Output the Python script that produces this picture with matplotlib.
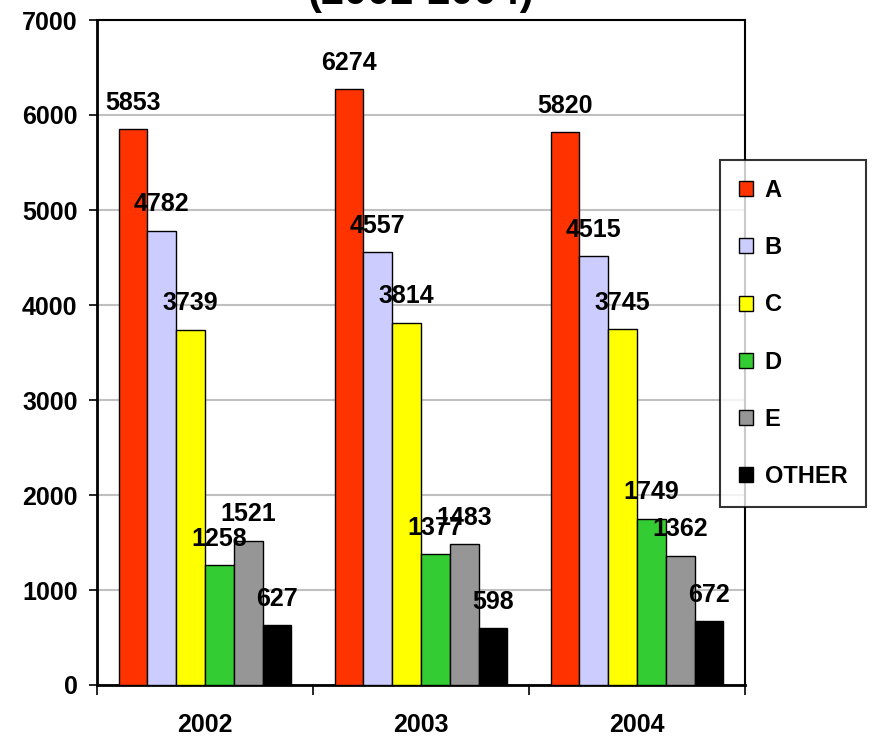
import numpy as np
import matplotlib.pyplot as plt

plt.rcParams['font.family'] = ['Liberation Sans', 'DejaVu Sans']
plt.rcParams['font.weight'] = 'bold'

# data
years = ['2002', '2003', '2004']
series = ['A', 'B', 'C', 'D', 'E', 'OTHER']
vals_A = [5853, 6274, 5820]
vals_B = [4782, 4557, 4515]
vals_C = [3739, 3814, 3745]
vals_D = [1258, 1377, 1749]
vals_E = [1521, 1483, 1362]
vals_OTHER = [627, 598, 672]
colors = ['#FF3300', '#CCCCFF', '#FFFF00', '#33CC33', '#969696', '#000000']

all_vals = [vals_A, vals_B, vals_C, vals_D, vals_E, vals_OTHER]

fig = plt.figure(figsize=(8.88, 7.36), dpi=100)
ax = fig.add_axes([97/888, 1-685/736, (745-97)/888, (685-20)/736])

x = np.arange(len(years))
w = 0.8 / len(series)
for i, (name, v, c) in enumerate(zip(series, all_vals, colors)):
    pos = x - 0.4 + w/2 + i*w
    ax.bar(pos, v, w, color=c, edgecolor='black', linewidth=1, label=name, zorder=3)
    for px, py in zip(pos, v):
        ax.annotate(str(py), (px, py), xytext=(0, 14), textcoords='offset points',
                    ha='center', va='baseline', fontsize=18, fontweight='bold', zorder=4)

ax.set_xlim(-0.5, 2.5)
ax.set_ylim(0, 7000)
ax.set_yticks(range(0, 7001, 1000))
ax.yaxis.grid(True, color='#C0C0C0', linewidth=1.5, zorder=0)
ax.set_xticks(x)
ax.set_xticklabels(years)
ax.set_xticks([-0.5, 0.5, 1.5, 2.5], minor=True)
ax.tick_params(axis='x', which='major', length=0, pad=20, labelsize=18)
ax.tick_params(axis='x', which='minor', length=7, width=1.2, direction='out')
ax.tick_params(axis='y', length=6, width=1.2, direction='out', labelsize=18, pad=8)
for lbl in ax.get_xticklabels() + ax.get_yticklabels():
    lbl.set_fontweight('bold')
for s in ['left', 'bottom']:
    ax.spines[s].set_linewidth(2)
for s in ['top', 'right']:
    ax.spines[s].set_linewidth(1.5)

fig.text(421/888, 0.994, '(2002-2004)', ha='center', va='baseline',
         fontsize=30, fontweight='bold')

leg = fig.legend(loc='upper left', bbox_to_anchor=(720/888, 1-160/736),
                 frameon=True, fancybox=False, edgecolor='black', fontsize=17,
                 handlelength=0.6, handleheight=0.6, handletextpad=0.5,
                 labelspacing=1.45, borderpad=0.8, borderaxespad=0)
leg.get_frame().set_linewidth(1.5)
for t in leg.get_texts():
    t.set_fontweight('bold')

fig.savefig('out.png', dpi=100)
